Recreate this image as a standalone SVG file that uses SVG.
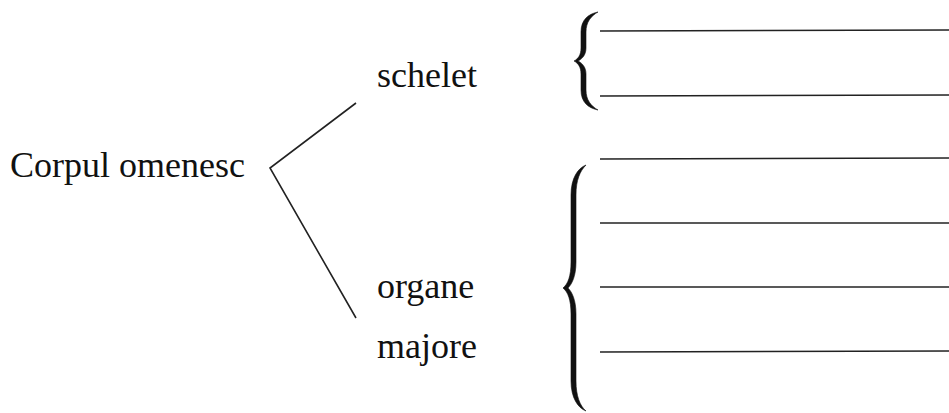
<svg xmlns="http://www.w3.org/2000/svg" width="949" height="413" viewBox="0 0 949 413">
<style>
text{font-family:"Liberation Serif","Times New Roman",serif;font-size:36px;fill:#111}
.ln{stroke:#222;stroke-width:1.6;fill:none}
.br{fill:#111;stroke:#111;stroke-width:0.6}
</style>
<rect width="949" height="413" fill="#fff"/>
<g id="root"><text x="10" y="177">Corpul omenesc</text></g>
<g id="schelet"><text x="377" y="87">schelet</text></g>
<g id="organe"><text x="377" y="298">organe</text><text x="377" y="358">majore</text></g>
<g id="connectors">
<polyline class="ln" points="356,103 270,168 356,318"/>
</g>
<g id="brace-schelet">
<path class="br" d="M598,12 C588,14 581,20 581,32 L581,48 C581,55 578,59 574,61 C578,63 581,67 581,74 L581,90 C581,102 588,108 598,110 C591,106 586,100 586,90 L586,74 C586,67 582,63 578,61 C582,59 586,55 586,48 L586,32 C586,22 591,16 598,12 Z"/>
<line class="ln" x1="600" y1="31" x2="949" y2="30"/>
<line class="ln" x1="600" y1="96" x2="949" y2="95"/>
</g>
<g id="brace-organe">
<path class="br" d="M586,165 C578,168 571,178 571,195 L571,262 C571,276 568,284 563,288 C568,292 571,300 571,314 L571,381 C571,398 578,408 586,411 C580,406 576,396 576,381 L576,314 C576,300 572,292 568,288 C572,284 576,276 576,262 L576,195 C576,180 580,171 586,165 Z"/>
<line class="ln" x1="600" y1="159" x2="949" y2="158"/>
<line class="ln" x1="600" y1="223" x2="949" y2="223"/>
<line class="ln" x1="600" y1="287" x2="949" y2="287"/>
<line class="ln" x1="600" y1="352" x2="949" y2="351"/>
</g>
</svg>
